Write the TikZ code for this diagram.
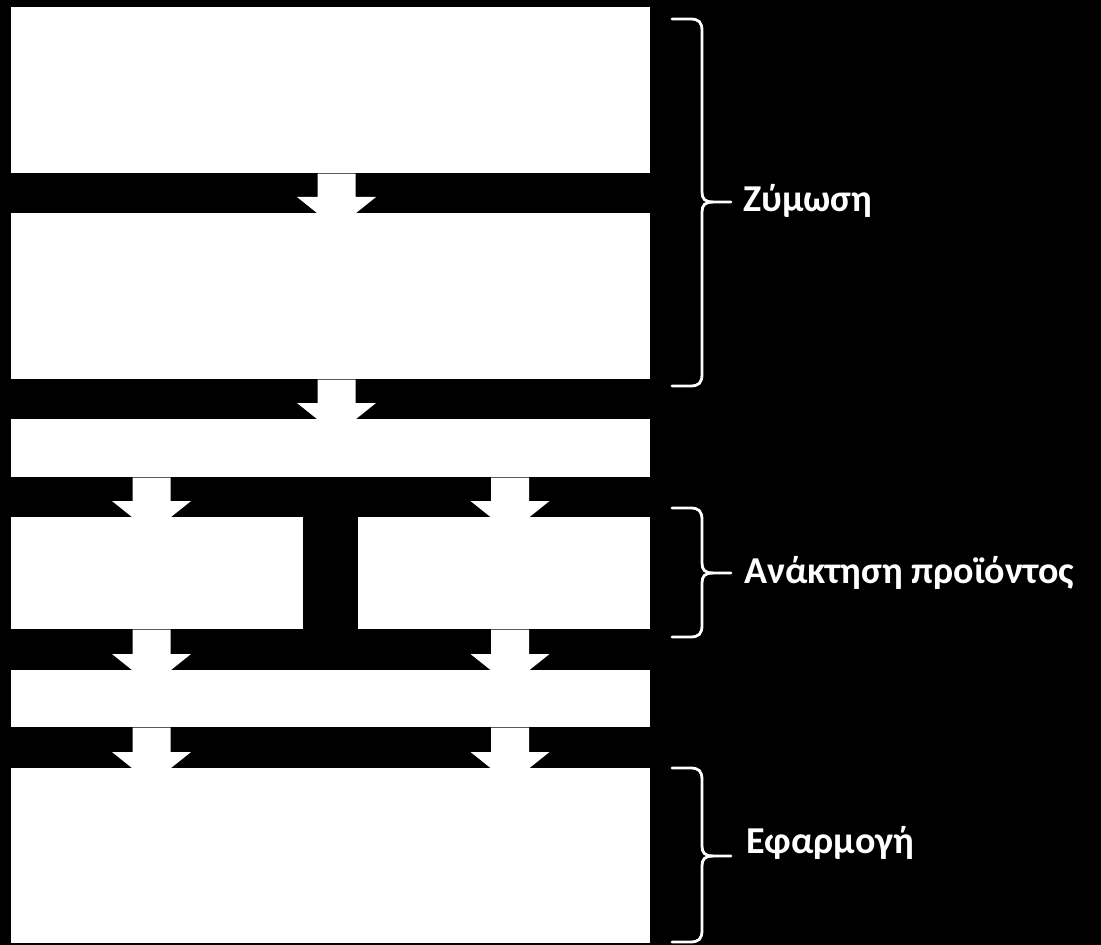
\documentclass[tikz,border=0pt]{standalone}
\usepackage{fontspec}
\setmainfont{Carlito}
\usetikzlibrary{calc}
\tikzset{
  box/.style={fill=white, draw=none, inner sep=0pt, anchor=north west},
  bracepath/.style={draw=white, line width=2.1pt, line cap=round, line join=round},
  lbl/.style={text=white, font=\bfseries\fontsize{28.5}{32}\selectfont, anchor=base west, inner sep=0pt},
}
\newcommand\blockarrow[3]{%
  \fill[white] let \p1=(#2.south), \p2=(#3.north), \n1={#1*0.75pt} in
    (\n1-14.25pt,\y1) -- (\n1-14.25pt,\y2+12pt) -- (\n1-29.625pt,\y2+12pt) --
    (\n1,\y2-11.7pt) -- (\n1+29.625pt,\y2+12pt) -- (\n1+14.25pt,\y2+12pt) --
    (\n1+14.25pt,\y1) -- cycle;}
\newcommand\bracedraw[4]{% top, bottom, mid, name of tip
  \draw[bracepath] (672,#1) -- (690,#1) .. controls (699,#1) and (702,#1+3) .. (702,#1+12)
     -- (702,#3-10) .. controls (702,#3-3) and (705,#3) .. (713,#3) -- (731,#3);
  \draw[bracepath] (672,#2) -- (690,#2) .. controls (699,#2) and (702,#2-3) .. (702,#2-12)
     -- (702,#3+10) .. controls (702,#3+3) and (705,#3) .. (713,#3);
  \coordinate (#4) at (731,#3);}
\begin{document}
\begin{tikzpicture}[x=0.75pt, y=-0.75pt]
\fill[black] (0,0) rectangle (1101,945);
\useasboundingbox (0,0) rectangle (1101,945);
% boxes
\node[box, minimum width=479.25pt, minimum height=124.5pt] (b1) at (11,7) {};
\node[box, minimum width=479.25pt, minimum height=124.5pt] (b2) at (11,213) {};
\node[box, minimum width=479.25pt, minimum height=43.5pt] (b3) at (11,419) {};
\node[box, minimum width=219pt, minimum height=84pt] (b4a) at (11,517) {};
\node[box, minimum width=219pt, minimum height=84pt] (b4b) at (358,517) {};
\node[box, minimum width=479.25pt, minimum height=42.75pt] (b5) at (11,670) {};
\node[box, minimum width=479.25pt, minimum height=131.25pt] (b6) at (11,768) {};
% arrows
\blockarrow{336.5}{b1}{b2}
\blockarrow{336.5}{b2}{b3}
\blockarrow{151.5}{b3}{b4a}
\blockarrow{510}{b3}{b4b}
\blockarrow{151.5}{b4a}{b5}
\blockarrow{510}{b4b}{b5}
\blockarrow{151.5}{b5}{b6}
\blockarrow{510}{b5}{b6}
% braces and labels
\bracedraw{19}{386}{202}{t1}
\bracedraw{508}{637}{573}{t2}
\bracedraw{768}{942}{856}{t3}
\node[lbl] (l1) at ($(t1)+(12,10)$) {Ζύμωση};
\node[lbl] (l2) at ($(t2)+(13,10)$) {Ανάκτηση προϊόντος};
\node[lbl] (l3) at ($(t3)+(15,-3)$) {Εφαρμογή};
\end{tikzpicture}
\end{document}
